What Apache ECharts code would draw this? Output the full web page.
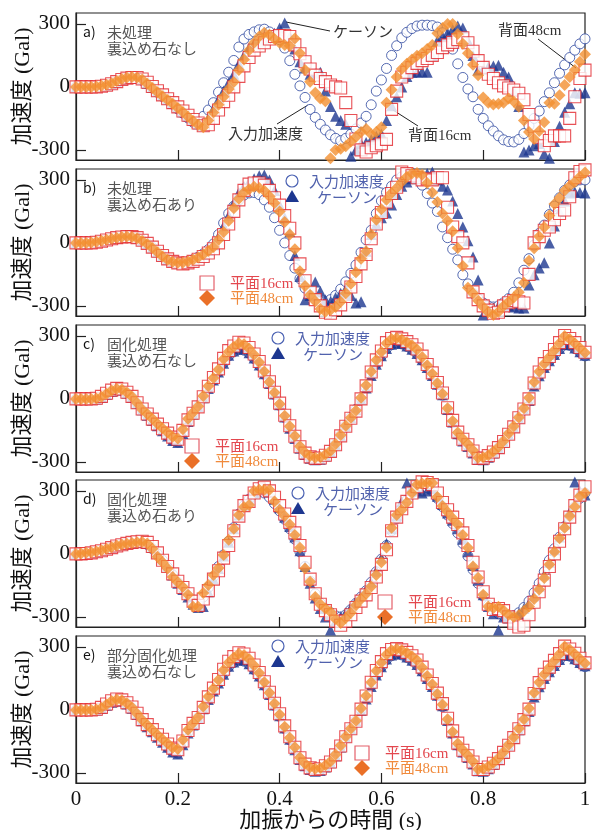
<!DOCTYPE html>
<html>
<head>
<meta charset="utf-8">
<script src="https://cdn.jsdelivr.net/npm/echarts@6/dist/echarts.min.js"></script>
<style>
  html, body { margin: 0; padding: 0; background: #fff; }
  #chart { width: 592px; height: 830px; }
</style>
</head>
<body>
<div id="chart"></div>
<script>
// sample times in seconds (0.01 s step)
const t = [];
for (let i = 0; i <= 100; i++) t.push(+(i / 100).toFixed(2));

const xTicks = [0, 0.2, 0.4, 0.6, 0.8, 1];
const yTicks = [-300, 0, 300];

const panelLabels = ['a)', 'b)', 'c)', 'd)', 'e)'];
const panelTexts = [
  ['未処理', '裏込め石なし'],
  ['未処理', '裏込め石あり'],
  ['固化処理', '裏込め石なし'],
  ['固化処理', '裏込め石あり'],
  ['部分固化処理', '裏込め石なし']
];
const namesA = ['入力加速度', 'ケーソン', '背面16cm', '背面48cm'];
const namesB = ['入力加速度', 'ケーソン', '平面16cm', '平面48cm'];

// panel a) 未処理・裏込め石なし
const aIn = [0,0,0,0,0,2,8,15,25,35,
  42,45,42,32,15,-5,-25,-45,-62,-82,
  -105,-125,-148,-168,-170,-140,-110,-75,-25,20,
  70,126,190,228,250,262,272,275,262,245,
  225,185,125,60,5,-50,-107,-145,-178,-205,
  -228,-245,-256,-245,-225,-200,-172,-140,-85,-20,
  33,88,150,196,234,260,278,290,294,294,
  292,285,258,215,180,110,45,-10,-47,-107,
  -150,-185,-210,-233,-252,-260,-262,-250,-222,-185,
  -150,-115,-70,-28,20,65,105,140,175,205,
  229];
const aCa = [0,0,0,0,0,3,8,15,25,35,
  42,45,43,35,18,-2,-20,-40,-58,-78,
  -98,-118,-138,-158,-175,-185,-150,-105,-60,-20,
  20,60,110,150,185,205,215,225,235,255,
  280,304,240,180,120,90,60,65,70,-20,
  -93,-140,-160,-178,-330,-300,-271,-265,-250,-235,
  -224,-160,-90,-47,0,50,70,70,72,70,
  150,220,240,257,275,290,280,220,150,80,
  85,95,100,103,70,47,-20,-93,-310,-300,
  -280,-270,-320,-340,-260,-187,-121,-80,-28,-30,
  -28];
const a16 = [0,0,0,0,0,3,8,15,25,35,
  42,45,45,38,22,2,-18,-38,-56,-75,
  -95,-115,-135,-155,-172,-185,-180,-150,-110,-70,
  -40,0,50,100,140,175,195,210,228,240,
  245,245,240,200,158,120,85,56,40,25,
  9,0,-5,-75,-160,-248,-300,-310,-290,-280,
  -271,-250,-107,-20,47,70,92,112,125,135,
  150,164,187,200,212,225,234,210,170,125,
  93,60,40,20,5,-5,-15,-30,-61,-131,
  -187,-240,-280,-255,-233,-233,-233,-150,-47,40,
  80];
const a48 = [0,0,0,0,2,5,10,18,28,38,
  45,47,45,35,15,-5,-25,-45,-62,-80,
  -100,-120,-142,-162,-180,-192,-160,-122,-85,-47,
  -10,23,80,130,175,210,240,258,248,228,
  210,200,196,230,160,80,25,-28,-55,-68,
  -340,-300,-295,-282,-260,-238,-215,-200,-225,-215,
  -192,-75,-14,47,85,110,130,148,160,180,
  200,255,280,300,300,252,205,160,105,55,
  -50,-75,-84,-80,-75,-55,-70,-95,-160,-215,
  -248,-210,-168,-75,-80,-40,9,47,80,120,
  155];

// panel b) 未処理・裏込め石あり
const bIn = [0,0,0,2,5,10,16,22,27,30,
  32,30,24,12,-3,-22,-42,-62,-78,-90,
  -97,-95,-90,-80,-68,-52,-32,-5,40,95,
  140,175,205,228,238,240,230,205,170,120,
  60,0,-60,-120,-170,-215,-250,-270,-280,-281,
  -270,-250,-220,-185,-145,-105,-45,15,60,140,
  200,240,270,300,315,325,330,318,275,235,
  190,150,76,25,-30,-81,-152,-195,-240,-265,
  -286,-300,-305,-300,-285,-265,-235,-190,-130,-75,
  -10,45,85,135,175,215,250,276,292,300,
  300];
const bCa = [0,0,0,2,5,10,16,22,28,32,
  34,32,25,12,-3,-22,-42,-62,-78,-90,
  -97,-96,-90,-82,-70,-55,-35,-10,30,80,
  130,190,240,270,290,305,320,324,300,250,
  180,120,52,-60,-160,-271,-250,-186,-230,-271,
  -280,-260,-240,-220,-250,-286,-280,-40,40,90,
  120,143,180,230,270,290,305,315,320,330,
  338,300,270,252,200,140,76,10,-67,-176,
  -343,-320,-310,-300,-295,-300,-305,-310,-310,-200,
  -152,-120,-95,0,80,150,200,238,243,240,
  238];
const b16 = [0,0,0,0,3,8,14,20,25,28,
  30,30,25,13,-2,-20,-40,-60,-76,-88,
  -95,-100,-95,-88,-78,-65,-48,-28,0,40,
  90,150,205,250,280,285,285,275,250,215,
  180,130,70,0,-100,-180,-235,-270,-300,-330,
  -335,-318,-295,-255,-210,-160,-100,-55,20,90,
  145,195,235,265,338,330,320,310,300,305,
  300,310,310,170,76,30,0,-95,-233,-270,
  -300,-320,-335,-330,-300,-285,-275,-280,-286,-150,
  0,30,60,76,110,140,157,220,310,340,
  348];
const b48 = [0,0,0,2,5,10,15,20,25,28,
  30,28,22,10,-5,-24,-45,-65,-80,-90,
  -95,-93,-88,-80,-70,-55,-38,-19,15,52,
  105,165,210,240,255,267,262,248,222,190,
  150,100,40,-30,-135,-205,-248,-278,-315,-328,
  -319,-305,-280,-240,-195,-140,-75,-40,40,110,
  160,205,238,262,290,315,330,333,325,285,
  240,195,140,105,55,-24,-110,-214,-240,-275,
  -305,-330,-343,-328,-300,-280,-260,-235,-190,-85,
  -25,30,75,130,185,215,250,272,290,315,
  335];

// panel c) 固化処理・裏込め石なし
const cIn = [0,0,0,-2,0,8,22,36,44,42,
  28,8,-22,-52,-76,-100,-125,-150,-175,-198,
  -205,-160,-105,-70,-35,8,52,90,130,172,
  205,225,235,232,218,192,160,118,72,22,
  -30,-88,-140,-185,-232,-262,-280,-287,-285,-270,
  -250,-215,-172,-128,-88,-50,0,55,115,168,
  205,240,258,265,262,250,235,215,185,148,
  110,68,18,-52,-112,-168,-200,-225,-255,-285,
  -287,-275,-255,-232,-202,-168,-132,-90,-48,-5,
  65,112,150,182,210,238,258,255,240,222,
  205];
const cCa = [0,0,0,-2,0,8,22,36,44,42,
  28,8,-22,-52,-78,-102,-128,-152,-176,-198,
  -208,-165,-108,-72,-36,6,50,90,128,170,
  208,228,240,236,220,195,162,120,74,24,
  -28,-86,-140,-188,-235,-265,-282,-290,-287,-272,
  -252,-218,-175,-130,-90,-52,-2,52,112,165,
  205,240,260,268,264,252,236,216,186,150,
  112,70,20,-50,-110,-166,-200,-226,-258,-288,
  -290,-278,-258,-235,-205,-170,-135,-92,-50,-8,
  62,110,150,182,212,240,260,258,242,225,
  208];
const c16 = [0,0,0,0,3,12,27,42,50,47,
  32,12,-18,-48,-72,-96,-120,-142,-163,-182,
  -192,-150,-100,-68,-38,10,60,102,143,193,
  230,252,270,266,245,214,178,133,82,32,
  -20,-78,-128,-178,-228,-258,-276,-283,-281,-268,
  -250,-218,-176,-130,-92,-58,0,62,128,186,
  228,268,288,293,286,273,258,238,204,164,
  124,78,28,-42,-102,-158,-192,-218,-248,-283,
  -282,-270,-253,-232,-203,-168,-133,-90,-48,0,
  76,128,168,202,235,268,302,288,268,245,
  222];
const c48 = [0,0,0,0,2,10,25,40,48,45,
  30,10,-20,-50,-72,-95,-118,-140,-160,-180,
  -188,-145,-95,-65,-35,14,62,100,140,190,
  225,248,265,260,240,210,175,130,80,30,
  -24,-80,-130,-176,-225,-255,-272,-280,-278,-265,
  -248,-215,-172,-128,-90,-55,5,65,130,185,
  225,265,285,290,283,270,255,235,200,160,
  120,75,25,-45,-105,-160,-190,-215,-245,-280,
  -278,-268,-250,-230,-200,-165,-130,-88,-45,5,
  80,130,168,200,232,265,300,285,265,242,
  220];

// panel d) 固化処理・裏込め石あり
const dIn = [0,-2,0,3,8,14,22,30,38,44,
  48,50,52,52,45,25,0,-30,-65,-100,
  -135,-165,-200,-235,-240,-205,-160,-110,-60,-5,
  60,125,190,230,260,285,295,290,270,240,
  205,165,120,70,10,-60,-130,-190,-235,-262,
  -280,-295,-300,-290,-265,-235,-205,-175,-135,-85,
  -25,40,110,170,215,255,290,310,318,315,
  300,265,225,185,145,100,50,-10,-75,-140,
  -200,-245,-270,-285,-295,-300,-295,-280,-255,-225,
  -185,-140,-85,-30,25,80,130,180,225,265,
  290];
const dCa = [0,0,2,5,9,15,22,30,38,44,
  48,52,55,56,50,30,5,-25,-60,-100,
  -140,-170,-205,-240,-255,-250,-180,-120,-70,-10,
  55,120,185,230,260,290,310,315,295,260,
  220,175,130,80,15,-60,-140,-210,-260,-300,
  -362,-320,-300,-280,-255,-225,-200,-170,-135,-80,
  -20,50,120,180,250,338,320,300,290,300,
  310,275,235,195,160,120,70,10,-55,-125,
  -195,-250,-285,-362,-300,-305,-300,-285,-260,-235,
  -200,-155,-100,-40,20,80,140,200,343,300,
  280];
const d16 = [0,0,2,5,10,15,22,30,38,44,
  50,55,58,60,55,35,5,-30,-60,-95,
  -130,-160,-190,-225,-245,-215,-175,-120,-80,-20,
  40,110,180,230,250,290,310,318,300,270,
  230,190,150,100,40,-40,-120,-190,-240,-270,
  -290,-320,-340,-320,-290,-255,-225,-195,-160,-110,
  -50,20,110,175,215,250,290,320,343,340,
  330,290,245,210,175,140,100,40,-40,-110,
  -180,-240,-265,-260,-270,-300,-330,-348,-340,-290,
  -230,-180,-125,-60,0,60,120,175,230,280,
  320];
const d48 = [0,2,5,8,12,18,25,32,40,45,
  48,52,55,57,50,25,-14,-40,-70,-110,
  -135,-157,-195,-252,-252,-186,-148,-100,-67,-5,
  67,120,185,224,233,300,305,305,305,250,
  210,180,140,90,29,-70,-133,-205,-240,-260,
  -276,-310,-329,-305,-280,-245,-215,-190,-155,-100,
  -40,30,125,185,210,245,290,329,335,338,
  338,271,228,200,170,140,90,29,-60,-114,
  -195,-250,-257,-252,-270,-290,-300,-292,-272,-250,
  -215,-170,-115,-50,10,75,125,180,225,275,
  290];

// panel e) 部分固化処理・裏込め石なし
const eIn = [0,0,0,-3,0,8,22,36,44,42,
  28,8,-22,-52,-78,-102,-128,-152,-178,-200,
  -206,-162,-106,-70,-36,8,52,92,130,172,
  206,226,236,232,218,192,160,118,72,22,
  -30,-88,-142,-186,-234,-264,-282,-288,-285,-270,
  -250,-216,-172,-128,-88,-50,0,56,116,168,
  206,240,258,266,262,250,235,214,184,148,
  110,68,16,-52,-112,-168,-202,-226,-256,-286,
  -288,-276,-256,-232,-202,-168,-132,-90,-48,-4,
  66,112,150,182,210,238,260,256,240,222,
  206];
const eCa = [0,0,0,-3,0,8,22,36,44,42,
  28,8,-22,-52,-80,-104,-130,-154,-178,-200,
  -210,-166,-110,-72,-38,6,50,90,128,170,
  208,228,240,236,220,196,162,120,74,24,
  -28,-86,-140,-190,-236,-266,-284,-292,-288,-272,
  -252,-218,-176,-130,-90,-52,-2,52,112,166,
  206,242,262,270,266,252,236,216,186,150,
  112,70,20,-50,-110,-166,-200,-226,-258,-290,
  -292,-280,-260,-236,-206,-170,-136,-94,-52,-8,
  62,110,150,182,212,240,262,260,244,226,
  210];
const e16 = [0,0,0,0,3,12,28,44,52,48,
  34,14,-16,-46,-70,-94,-118,-140,-162,-182,
  -190,-148,-98,-64,-36,12,62,104,145,194,
  232,254,272,266,246,214,178,134,84,32,
  -18,-76,-128,-178,-228,-258,-276,-284,-280,-266,
  -248,-214,-172,-128,-90,-54,4,66,132,188,
  230,268,288,292,286,274,258,238,204,166,
  126,80,30,-40,-100,-158,-192,-218,-248,-284,
  -284,-272,-254,-232,-202,-168,-132,-90,-46,4,
  78,130,170,204,236,268,304,290,270,246,
  224];
const e48 = [0,0,0,0,2,10,26,42,50,46,
  32,12,-18,-48,-72,-95,-118,-140,-160,-180,
  -186,-142,-94,-62,-34,16,64,102,142,190,
  226,250,268,262,242,212,176,132,82,30,
  -22,-80,-132,-178,-226,-256,-273,-280,-277,-264,
  -246,-212,-170,-126,-88,-52,8,68,132,186,
  226,264,284,290,284,272,256,236,202,162,
  122,76,26,-44,-104,-160,-190,-216,-246,-282,
  -280,-270,-252,-230,-200,-166,-130,-88,-44,8,
  82,132,170,202,234,266,302,288,266,244,
  222];

const panels = [
  [aIn, aCa, a16, a48],
  [bIn, bCa, b16, b48],
  [cIn, cCa, c16, c48],
  [dIn, dCa, d16, d48],
  [eIn, eCa, e16, e48]
];

// layout
const L = 76, W = 509, H = 147;
const tops = [13, 169, 325, 480, 636];
const SERIF = '"Liberation Serif", "Noto Sans CJK JP"';
const SANS = '"Noto Sans CJK JP", sans-serif';

const BLUE = '#2c469f', NAVY = '#1d3790', RED = '#e2252c', ORANGE = '#f39031';
const markStyles = [
  { symbol: 'circle', symbolSize: 10, itemStyle: { color: '#fff', borderColor: BLUE, borderWidth: 1 } },
  { symbol: 'triangle', symbolSize: 11, itemStyle: { color: NAVY } },
  { symbol: 'rect', symbolSize: 12, itemStyle: { color: '#fff', borderColor: RED, borderWidth: 1.1 } },
  { symbol: 'diamond', symbolSize: 12, itemStyle: { color: ORANGE } }
];

const grid = [], xAxis = [], yAxis = [], series = [], graphic = [];

tops.forEach((top, p) => {
  grid.push({
    left: L, top: top, width: W, height: H, outerBoundsMode: 'none', containLabel: false,
    show: true, borderColor: '#222', borderWidth: 1.2, backgroundColor: 'transparent'
  });
  const last = p === tops.length - 1;
  xAxis.push({
    gridIndex: p, type: 'value', min: 0, max: 1, interval: 0.2,
    axisLine: { onZero: false, lineStyle: { color: '#222', width: 1.2 } },
    axisTick: { inside: true, length: 10, lineStyle: { color: '#222', width: 1.2 } },
    axisLabel: { show: last, fontFamily: SERIF, fontSize: 21, color: '#111', margin: 6 },
    splitLine: { show: false },
    name: last ? '加振からの時間 (s)' : '', nameLocation: 'middle', nameGap: 27, nameMoveOverlap: false,
    nameTextStyle: { fontFamily: SERIF, fontSize: 22, color: '#111' }
  });
  yAxis.push({
    gridIndex: p, type: 'value', min: -348, max: 352,
    axisLine: { onZero: false, lineStyle: { color: '#222', width: 1.2 } },
    axisTick: { inside: true, length: 10, customValues: yTicks, lineStyle: { color: '#222', width: 1.2 } },
    axisLabel: { customValues: yTicks, fontFamily: SERIF, fontSize: 21, color: '#111', margin: 6 },
    splitLine: { show: false },
    name: '加速度 (Gal)', nameLocation: 'middle', nameGap: 42, nameRotate: 90, nameMoveOverlap: false,
    nameTextStyle: { fontFamily: SERIF, fontSize: 22, color: '#111' }
  });
  const names = p === 0 ? namesA : namesB;
  panels[p].forEach((arr, k) => {
    series.push(Object.assign({
      type: 'scatter', name: names[k], xAxisIndex: p, yAxisIndex: p,
      data: t.map((x, i) => [x, arr[i]]), clip: false, silent: true, animation: false
    }, markStyles[k]));
  });

  // panel label and condition text
  graphic.push({ type: 'text', left: 83, top: top + 12, style: { text: panelLabels[p], font: '14px ' + SANS, fill: '#111' } });
  graphic.push({ type: 'text', left: 107, top: top + 11, style: { text: panelTexts[p].join('\n'), fontFamily: SANS, fontSize: 15, lineHeight: 16, fill: '#555' } });
});

// legend blocks for panels b-e: [circle x, circle y, square x, square y]
const legendPos = [null, [292, 181, 207, 283], [278, 338, 192, 446], [298, 493, 385, 602], [278, 646, 362, 753]];
legendPos.forEach((lp, p) => {
  if (!lp) return;
  const [cx, cy, sx, sy] = lp;
  graphic.push({ type: 'circle', shape: { cx: cx, cy: cy, r: 6 }, style: { fill: 'none', stroke: '#4b62b3', lineWidth: 1.2 } });
  graphic.push({ type: 'polygon', shape: { points: [[cx, cy + 9], [cx - 7, cy + 21], [cx + 7, cy + 21]] }, style: { fill: NAVY } });
  graphic.push({ type: 'text', x: cx + 17, y: cy, style: { text: '入力加速度', fontFamily: SANS, fontSize: 15, fill: '#5162ad', verticalAlign: 'middle' } });
  graphic.push({ type: 'text', x: cx + 25, y: cy + 16, style: { text: 'ケーソン', fontFamily: SANS, fontSize: 15, fill: '#5162ad', verticalAlign: 'middle' } });
  graphic.push({ type: 'rect', shape: { x: sx - 7, y: sy - 7, width: 14, height: 14 }, style: { fill: 'none', stroke: '#e4606a', lineWidth: 1.2 } });
  graphic.push({ type: 'polygon', shape: { points: [[sx, sy + 7], [sx + 8, sy + 15], [sx, sy + 23], [sx - 8, sy + 15]] }, style: { fill: '#ea7028' } });
  graphic.push({ type: 'text', x: sx + 23, y: sy + 1, style: { text: namesB[2], fontFamily: SERIF, fontSize: 15, fill: '#e3474e', verticalAlign: 'middle' } });
  graphic.push({ type: 'text', x: sx + 23, y: sy + 16, style: { text: namesB[3], fontFamily: SERIF, fontSize: 15, fill: '#f08a3c', verticalAlign: 'middle' } });
});

// panel a annotations with leader lines
const notes = [
  { text: 'ケーソン', x: 333, y: 33, line: [286, 22, 330, 31] },
  { text: '入力加速度', x: 228, y: 135, line: [277, 124, 308, 105] },
  { text: '背面16cm', x: 408, y: 136, line: [393, 110, 418, 126] },
  { text: '背面48cm', x: 498, y: 31, line: [538, 39, 576, 68] }
];
notes.forEach(n => {
  graphic.push({ type: 'line', shape: { x1: n.line[0], y1: n.line[1], x2: n.line[2], y2: n.line[3] }, style: { stroke: '#222', lineWidth: 1 } });
  graphic.push({ type: 'text', x: n.x, y: n.y, style: { text: n.text, fontFamily: SERIF, fontSize: 15, fill: '#333', verticalAlign: 'middle' } });
});

const chart = echarts.init(document.getElementById('chart'), null, { renderer: 'canvas' });
chart.setOption({
  backgroundColor: '#fff',
  animation: false,
  grid: grid,
  xAxis: xAxis,
  yAxis: yAxis,
  series: series,
  graphic: graphic
});
</script>
</body>
</html>
